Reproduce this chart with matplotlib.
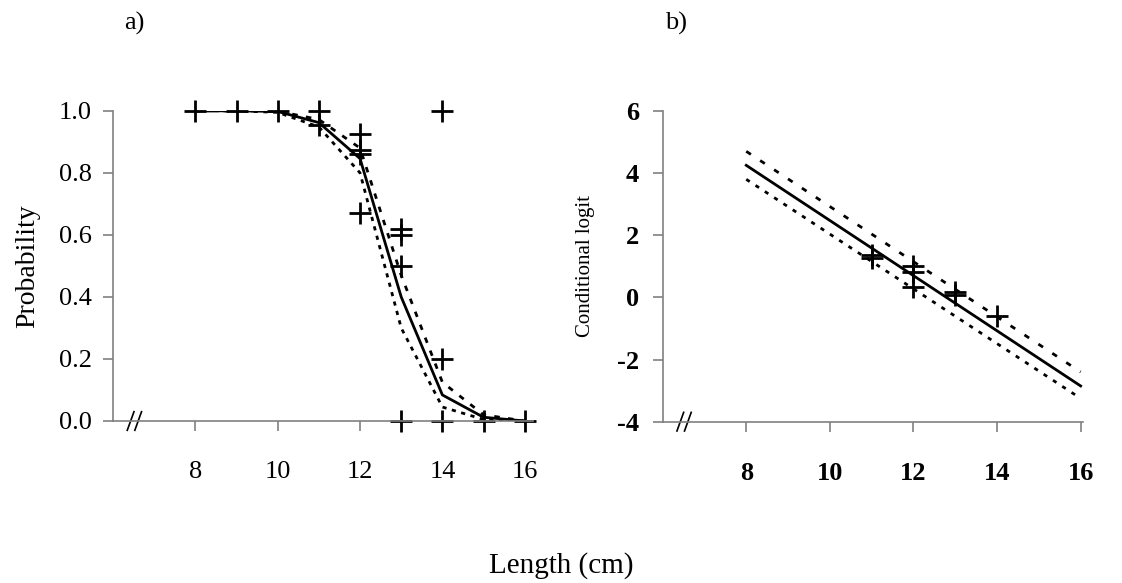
import numpy as np
import matplotlib
matplotlib.use('Agg')
import matplotlib.pyplot as plt

plt.rcParams['font.family'] = ['Liberation Serif', 'DejaVu Serif']
plt.rcParams['axes.unicode_minus'] = False

# Panel a: observed probabilities and fitted curve with bounds
len_obs_a = [8, 9, 10, 11, 11, 12, 12, 12, 12, 13, 13, 13, 13, 14, 14, 14, 15, 16]
prob_obs = [1.0, 1.0, 1.0, 1.0, 0.955, 0.925, 0.875, 0.86, 0.67,
            0.62, 0.60, 0.50, 0.0, 1.0, 0.20, 0.0, 0.0, 0.0]
len_fit = [8, 9, 10, 11, 12, 13, 14, 15, 16]
prob_fit = [1.0, 1.0, 0.998, 0.962, 0.846, 0.40, 0.084, 0.012, 0.0]
prob_upper = [1.0, 1.0, 0.999, 0.972, 0.88, 0.47, 0.125, 0.02, 0.0]
prob_lower = [1.0, 1.0, 0.995, 0.948, 0.80, 0.30, 0.045, 0.005, 0.0]

# Panel b: conditional logits and fitted line with bounds
len_obs_b = [11, 11, 12, 12, 12, 13, 13, 14]
logit_obs = [1.35, 1.28, 1.0, 0.83, 0.35, 0.18, 0.08, -0.6]
len_line = [8, 16]
logit_fit = [4.25, -2.85]
logit_upper = [4.7, -2.4]
logit_lower = [3.8, -3.25]

fig = plt.figure(figsize=(11.22, 5.83), dpi=100)
ax1 = fig.add_axes([0.1007, 0.2779, 0.3743, 0.532])
ax2 = fig.add_axes([0.5906, 0.2767, 0.3744, 0.533])

grey = '#808080'

def style_axes(ax, ypad):
    for s in ['top', 'right']:
        ax.spines[s].set_visible(False)
    for s in ['left', 'bottom']:
        ax.spines[s].set_color(grey)
        ax.spines[s].set_linewidth(1.2)
    ax.tick_params(direction='out', length=7, width=1.2, color=grey,
                   labelsize=19)
    ax.tick_params(axis='x', pad=22)
    ax.tick_params(axis='y', pad=ypad)
    # axis break marks
    for dx in [0.042, 0.06]:
        ax.plot([dx - 0.008, dx + 0.008], [-0.03, 0.03], transform=ax.transAxes,
                color='black', lw=1.2, clip_on=False)

ax1.plot(len_fit, prob_fit, color='black', lw=2)
ax1.plot(len_fit, prob_upper, color='black', lw=2, dashes=(2, 3))
ax1.plot(len_fit, prob_lower, color='black', lw=2, dashes=(1.5, 2))
ax1.plot(len_obs_a, prob_obs, '+', color='black', ms=16, mew=2, clip_on=False)
ax1.set_xlim(6, 16.2)
ax1.set_ylim(0, 1.0)
ax1.set_xticks([8, 10, 12, 14, 16])
ax1.set_yticks(np.arange(0, 1.01, 0.2))
ax1.set_yticklabels(['%.1f' % v for v in np.arange(0, 1.01, 0.2)])
ax1.set_ylabel('Probability', fontsize=20, labelpad=14)
style_axes(ax1, 8)

ax2.plot(len_line, logit_fit, color='black', lw=2)
ax2.plot(len_line, logit_upper, color='black', lw=2, dashes=(2, 4))
ax2.plot(len_line, logit_lower, color='black', lw=2, dashes=(1.5, 2.5))
ax2.plot(len_obs_b, logit_obs, '+', color='black', ms=16, mew=2)
ax2.set_xlim(6, 16.05)
ax2.set_ylim(-4, 6)
ax2.set_xticks([8, 10, 12, 14, 16])
ax2.set_yticks([-4, -2, 0, 2, 4, 6])
ax2.set_ylabel('Conditional logit', fontsize=15, labelpad=16)
style_axes(ax2, 10)
for lab in ax2.get_xticklabels() + ax2.get_yticklabels():
    lab.set_fontweight('bold')

fig.text(0.111, 0.96, 'a)', fontsize=19, ha='left', va='center')
fig.text(0.593, 0.96, 'b)', fontsize=19, ha='left', va='center')
fig.text(0.5, 0.03, 'Length (cm)', fontsize=21, ha='center', va='center')

fig.savefig('out.png', dpi=100)
